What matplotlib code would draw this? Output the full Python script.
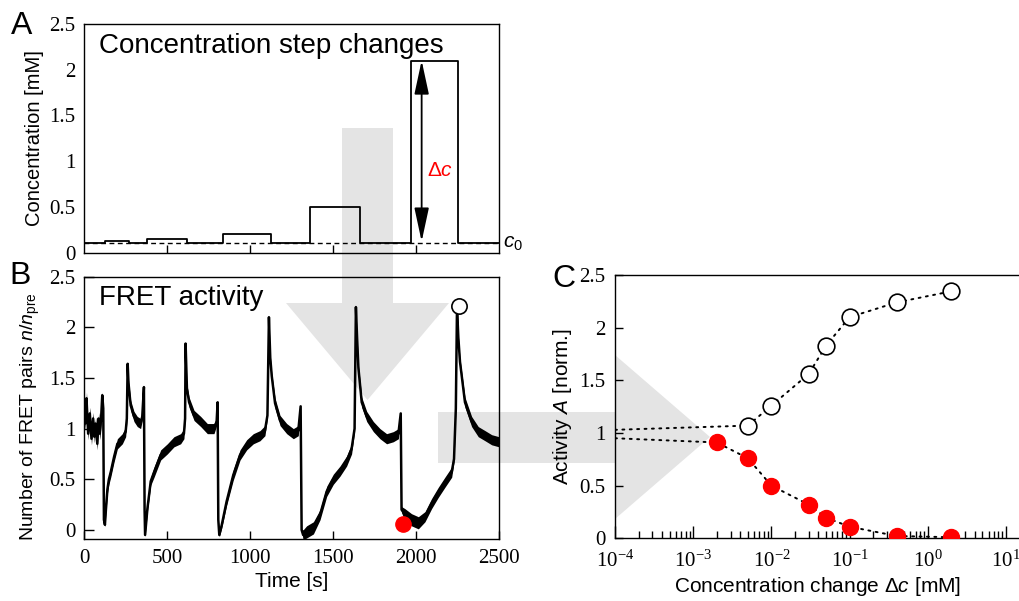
import matplotlib

matplotlib.use("Agg")
import matplotlib.pyplot as plt
import numpy as np
from matplotlib.patches import Polygon
from matplotlib.ticker import LogLocator, NullFormatter

plt.rcParams["font.family"] = ["Liberation Sans", "DejaVu Sans"]
plt.rcParams["mathtext.fontset"] = "custom"
plt.rcParams["mathtext.rm"] = "Liberation Sans"
plt.rcParams["mathtext.it"] = "Liberation Sans:italic"
plt.rcParams["mathtext.bf"] = "Liberation Sans:bold"

# --- panel A: concentration protocol ---
c0 = 0.1
step_start = [126, 377, 835, 1361, 1968]
step_end = [269, 618, 1126, 1663, 2256]
step_conc = [0.13, 0.15, 0.2, 0.5, 2.1]
t_max = 2500

# --- panel B: FRET trace, centre and noise half-width ---
trace_t = [0, 8, 15, 25, 35, 45, 55, 62, 70, 80, 88, 95, 103, 110, 116, 120, 126,
           132, 141, 150, 161, 181, 201, 231, 251, 258, 263, 268, 281, 301, 321,
           341, 351, 361, 365, 368,
           382, 402, 422, 462, 502, 542, 582, 602, 609, 612, 620, 633, 663, 703,
           743, 783, 799, 805, 809, 815,
           830, 859, 899, 940, 980, 1020, 1060, 1090, 1105, 1114, 1122, 1131,
           1151, 1181, 1221, 1261, 1291, 1305, 1311, 1320,
           1341, 1382, 1422, 1462, 1502, 1542, 1582, 1612, 1630, 1638, 1645,
           1653, 1673, 1703, 1743, 1783, 1823, 1863, 1894, 1908, 1913,
           1933, 1973, 2014, 2054, 2094, 2134, 2174, 2215, 2229, 2240, 2247,
           2255, 2265, 2295, 2335, 2375, 2416, 2456, 2500]
trace_v = [1.2, 1.05, 1.3, 0.95, 1.15, 0.9, 1.1, 0.92, 1.05, 0.85, 1.1, 0.95, 1.1, 1.33, 1.2, 0.1, 0.05,
           0.2, 0.4, 0.5, 0.57, 0.72, 0.85, 0.9, 0.97, 1.1, 1.64, 1.45, 1.23, 1.12, 1.07,
           1.05, 1.12, 1.41, 0.2, -0.05,
           0.21, 0.48, 0.57, 0.74, 0.8, 0.87, 0.9, 0.95, 1.1, 1.84, 1.4, 1.26, 1.13, 1.07,
           1.0, 1.0, 1.07, 1.26, 0.1, -0.05,
           0.05, 0.28, 0.54, 0.74, 0.84, 0.9, 0.93, 0.98, 1.13, 2.1, 1.7, 1.52,
           1.25, 1.08, 1.0, 0.95, 0.98, 1.22, 0.0, -0.05,
           -0.02, 0.02, 0.15, 0.38, 0.5, 0.58, 0.68, 0.8, 1.0, 2.2, 1.9,
           1.6, 1.26, 1.12, 1.02, 0.95, 0.9, 0.92, 0.95, 1.15, 0.2,
           0.15, 0.1, 0.07, 0.13, 0.26, 0.37, 0.47, 0.57, 0.7, 1.2, 2.2,
           1.9, 1.66, 1.26, 1.07, 0.97, 0.93, 0.89, 0.87]
trace_noise = [0.06, 0.06, 0.06, 0.06, 0.06, 0.06, 0.06, 0.06, 0.06, 0.06, 0.06, 0.06, 0.06, 0.03, 0.03, 0.01, 0.02,
               0.03, 0.04, 0.05, 0.05, 0.05, 0.05, 0.05, 0.05, 0.04, 0.01, 0.03, 0.05, 0.05, 0.05,
               0.05, 0.04, 0.02, 0.01, 0.02,
               0.03, 0.04, 0.05, 0.05, 0.05, 0.05, 0.05, 0.05, 0.03, 0.01, 0.03, 0.05, 0.05, 0.05,
               0.05, 0.05, 0.04, 0.02, 0.01, 0.02,
               0.03, 0.04, 0.05, 0.05, 0.05, 0.05, 0.05, 0.05, 0.03, 0.01, 0.02, 0.03,
               0.05, 0.05, 0.05, 0.05, 0.05, 0.02, 0.01, 0.05,
               0.06, 0.06, 0.05, 0.05, 0.05, 0.05, 0.05, 0.05, 0.03, 0.01, 0.02,
               0.03, 0.05, 0.05, 0.05, 0.05, 0.05, 0.05, 0.05, 0.02, 0.03,
               0.06, 0.06, 0.06, 0.05, 0.05, 0.05, 0.05, 0.05, 0.03, 0.02, 0.01,
               0.02, 0.03, 0.05, 0.05, 0.05, 0.05, 0.05, 0.05]
min_point = (1923, 0.06)
max_point = (2257, 2.21)

# --- panel C: dose response ---
dc_open = [0.005, 0.01, 0.03, 0.05, 0.1, 0.4, 2.0]
act_open = [1.07, 1.26, 1.56, 1.83, 2.10, 2.24, 2.345]
dc_red = [0.002, 0.005, 0.01, 0.03, 0.05, 0.1, 0.4, 2.0]
act_red = [0.91, 0.76, 0.50, 0.32, 0.196, 0.11, 0.022, 0.01]
pre_open = 1.03
pre_red = 0.95
dc_min = 1e-4

W, H = 1020, 601
fig = plt.figure(figsize=(W / 100, H / 100), dpi=100)


def px(x, y):
    return (x / W, 1 - y / H)


def ax_rect(left, top, right, bottom):
    return [left / W, 1 - bottom / H, (right - left) / W, (bottom - top) / H]


tick_font = dict(family="Liberation Serif", size=15)
gray = "#e4e4e4"

# big grey background arrows (figure pixels)
down_arrow = [(342, 128), (393, 128), (393, 303), (449, 303), (367.5, 400),
              (286, 303), (342, 303)]
right_arrow = [(438, 412), (615, 412), (615, 355), (710, 437), (615, 519),
               (615, 463), (438, 463)]
for shape in (down_arrow, right_arrow):
    fig.patches.append(Polygon([px(*p) for p in shape], closed=True,
                               transform=fig.transFigure, facecolor=gray,
                               edgecolor="none", zorder=-1))

# ---------------- A ----------------
axA = fig.add_axes(ax_rect(84, 24, 499, 252.5))
axA.set_facecolor("none")
xs, ys = [0], [c0]
for s, e, c in zip(step_start, step_end, step_conc):
    xs += [s, s, e, e]
    ys += [c0, c, c, c0]
xs.append(t_max)
ys.append(c0)
axA.plot([0, t_max], [c0, c0], color="k", lw=1.0, ls=(0, (3.5, 2.5)))
axA.plot(xs, ys, color="k", lw=1.3)
axA.set_xlim(0, t_max)
axA.set_ylim(0, 2.5)
axA.set_xticks([500, 1000, 1500, 2000])
axA.set_xticklabels([])
axA.set_yticks([0, 0.5, 1, 1.5, 2, 2.5])
axA.set_yticklabels(["0", "0.5", "1", "1.5", "2", "2.5"], **tick_font)
axA.tick_params(axis="x", direction="in", length=6, width=1)
axA.tick_params(axis="y", length=0, pad=6)
axA.set_ylabel("Concentration [mM]", fontsize=14.5, labelpad=4)
axA.text(0.035, 0.96, "Concentration step changes", transform=axA.transAxes,
         fontsize=20, va="top", ha="left")
arrow_x = 2034
axA.annotate("", xy=(arrow_x, step_conc[-1]), xytext=(arrow_x, c0 + 0.02),
             arrowprops=dict(arrowstyle="<|-|>,head_length=1.3,head_width=0.28",
                             color="k", lw=1.3, shrinkA=0, shrinkB=0,
                             mutation_scale=16))
axA.text(2065, 0.9, r"$\Delta c$", color="red", fontsize=15, va="center", ha="left")
axA.text(1.01, c0, r"$\mathit{c_0}$", transform=axA.get_yaxis_transform(),
         fontsize=15, va="center", ha="left")
for sp in axA.spines.values():
    sp.set_linewidth(1.0)

# ---------------- B ----------------
axB = fig.add_axes(ax_rect(84, 276.7, 499, 539))
axB.set_facecolor("none")
tv = np.array(trace_v)
tn = np.array(trace_noise)
axB.fill_between(trace_t, tv - tn, tv + tn, color="k", lw=0, zorder=3)
axB.plot(trace_t, trace_v, color="k", lw=1.8, solid_joinstyle="round", zorder=3)
axB.plot(*min_point, "o", color="red", ms=11, mec="red", zorder=4)
axB.plot(*max_point, "o", mfc="white", mec="k", ms=11, mew=1.2, zorder=4)
axB.set_xlim(0, t_max)
axB.set_ylim(-0.09, 2.5)
axB.set_xticks([0, 500, 1000, 1500, 2000, 2500])
axB.set_xticklabels(["0", "500", "1000", "1500", "2000", "2500"], **tick_font)
axB.set_yticks([0, 0.5, 1, 1.5, 2, 2.5])
axB.set_yticklabels(["0", "0.5", "1", "1.5", "2", "2.5"], **tick_font)
axB.tick_params(axis="x", direction="in", length=6, width=1, pad=7)
axB.tick_params(axis="y", direction="in", length=7, width=1, pad=6)
axB.set_xlabel("Time [s]", fontsize=15, labelpad=3)
axB.set_ylabel(r"Number of FRET pairs $n/n_{\mathrm{pre}}$", fontsize=14)
axB.yaxis.set_label_coords(-0.102, 0.465)
axB.text(0.035, 0.97, "FRET activity", transform=axB.transAxes,
         fontsize=20, va="top", ha="left")
for sp in axB.spines.values():
    sp.set_linewidth(1.0)

# ---------------- C ----------------
axC = fig.add_axes(ax_rect(615, 275, 1020, 538.3))
axC.set_facecolor("none")
axC.set_xscale("log")
dots = (0, (1, 2.8))
axC.plot([dc_min] + dc_open, [pre_open] + act_open, color="k", lw=1.4, ls=dots,
         dash_capstyle="round", zorder=2)
axC.plot([dc_min] + dc_red, [pre_red] + act_red, color="k", lw=1.4, ls=dots,
         dash_capstyle="round", zorder=2)
axC.plot(dc_open, act_open, "o", mfc="white", mec="k", ms=12, mew=1.2,
         ls="none", zorder=3)
axC.plot(dc_red, act_red, "o", color="red", mec="red", ms=11.5, ls="none", zorder=3)
axC.set_xlim(dc_min, 10 ** 1.179)
axC.set_ylim(0, 2.5)
axC.xaxis.set_major_locator(LogLocator(base=10, numticks=10))
axC.xaxis.set_minor_locator(LogLocator(base=10, subs=np.arange(2, 10), numticks=20))
axC.xaxis.set_minor_formatter(NullFormatter())
axC.set_yticks([0, 0.5, 1, 1.5, 2, 2.5])
axC.set_yticklabels(["0", "0.5", "1", "1.5", "2", "2.5"], **tick_font)
axC.tick_params(axis="x", which="major", direction="in", length=9, width=1, pad=9,
                labelfontfamily="Liberation Serif", labelsize=15)
axC.tick_params(axis="x", which="minor", direction="in", length=5, width=1)
axC.tick_params(axis="y", direction="in", length=6, width=1, pad=7)
axC.spines["right"].set_visible(False)
for sp in axC.spines.values():
    sp.set_linewidth(1.0)
axC.set_xlabel(r"Concentration change $\Delta c$ [mM]", fontsize=15, labelpad=2)
axC.set_ylabel(r"Activity $A$ [norm.]", fontsize=15, labelpad=4)

# panel letters
fig.text(*px(11, 34), "A", fontsize=23)
fig.text(*px(9, 284), "B", fontsize=23)
fig.text(*px(552, 287), "C", fontsize=23)

fig.savefig("out.png", dpi=100)
